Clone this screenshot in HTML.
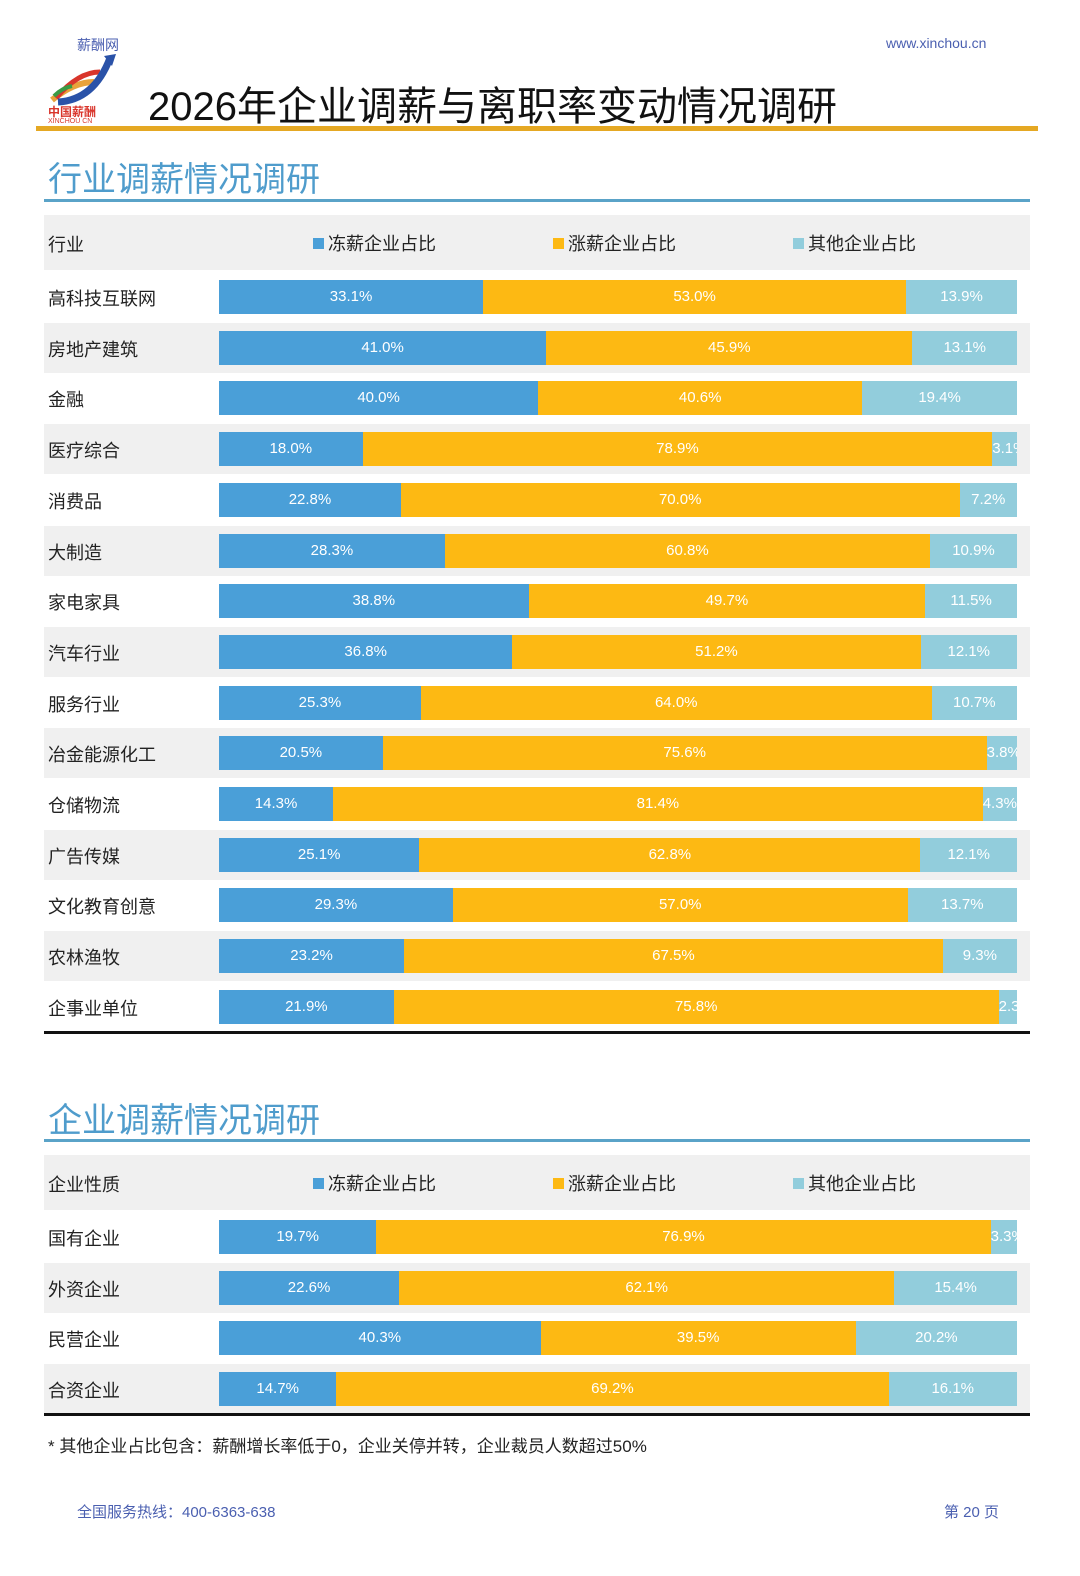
<!DOCTYPE html>
<html><head><meta charset="utf-8">
<style>
body{margin:0;background:#fff;}
#page{position:relative;width:1080px;height:1576px;overflow:hidden;font-family:"Liberation Sans","Noto Sans CJK SC",sans-serif;background:#fff;}
.abs{position:absolute;}
.rowlbl{position:absolute;left:48px;font-size:18px;color:#222;}
.seg{position:absolute;color:#fff;font-size:15px;text-align:center;overflow:hidden;white-space:nowrap;}
.leg{position:absolute;font-size:18px;color:#222;}
.leg i{display:inline-block;width:11px;height:11px;margin-right:4px;vertical-align:1px;}
</style></head>
<body>
<div id="page">
  <div class="abs" style="left:77px;top:35px;font-size:14px;color:#4a5fb0;">薪酬网</div>
  <svg class="abs" style="left:44px;top:52px" width="80" height="72">
    <path d="M8 48 Q30 30 50 30" stroke="#e8a23a" stroke-width="6" fill="none"/>
    <path d="M12 46 Q34 20 56 20" stroke="#d9352b" stroke-width="5" fill="none"/>
    <path d="M14 50 Q50 48 66 6" stroke="#2a52a8" stroke-width="7" fill="none"/>
    <polygon points="60,4 72,2 68,14" fill="#2a52a8"/>
    <path d="M10 44 Q18 36 28 34" stroke="#3a9a44" stroke-width="4" fill="none"/>
    <text x="4" y="64" font-size="12" fill="#d9352b" font-weight="bold" font-family="Liberation Sans, Noto Sans CJK SC, sans-serif">中国薪酬</text>
    <text x="4" y="71" font-size="7" fill="#d9352b" font-family="Liberation Sans, sans-serif">XINCHOU CN</text>
  </svg>
  <div class="abs" style="left:886px;top:35px;font-size:14px;color:#4a5fb0;">www.xinchou.cn</div>
  <div class="abs" style="left:148px;top:74px;font-size:40px;color:#111;">2026年企业调薪与离职率变动情况调研</div>
  <div class="abs" style="left:36px;top:126px;width:1002px;height:5px;background:#e5a823;"></div>

  <div class="abs" style="left:48px;top:152px;font-size:34px;color:#4f9ccc;">行业调薪情况调研</div>
  <div class="abs" style="left:44px;top:199px;width:986px;height:3px;background:#5aa3c8;"></div>
  <div id="chart1"></div>
  <div class="abs" style="left:44px;top:1031px;width:986px;height:3px;background:#111;"></div>

  <div class="abs" style="left:48px;top:1093px;font-size:34px;color:#4f9ccc;">企业调薪情况调研</div>
  <div class="abs" style="left:44px;top:1139px;width:986px;height:3px;background:#5aa3c8;"></div>
  <div id="chart2"></div>
  <div class="abs" style="left:44px;top:1413px;width:986px;height:3px;background:#111;"></div>

  <div class="abs" style="left:48px;top:1432px;font-size:17px;color:#222;">* 其他企业占比包含：薪酬增长率低于0，企业关停并转，企业裁员人数超过50%</div>
  <div class="abs" style="left:77px;top:1501px;font-size:15px;color:#4a5fb0;">全国服务热线：400-6363-638</div>
  <div class="abs" style="left:944px;top:1501px;font-size:15px;color:#4a5fb0;">第 20 页</div>
</div>
<script>
const cats1 = ["高科技互联网","房地产建筑","金融","医疗综合","消费品","大制造","家电家具","汽车行业","服务行业","冶金能源化工","仓储物流","广告传媒","文化教育创意","农林渔牧","企事业单位"];
const freeze1 = [33.1,41.0,40.0,18.0,22.8,28.3,38.8,36.8,25.3,20.5,14.3,25.1,29.3,23.2,21.9];
const raise1 = [53.0,45.9,40.6,78.9,70.0,60.8,49.7,51.2,64.0,75.6,81.4,62.8,57.0,67.5,75.8];
const other1 = [13.9,13.1,19.4,3.1,7.2,10.9,11.5,12.1,10.7,3.8,4.3,12.1,13.7,9.3,2.3];
const cats2 = ["国有企业","外资企业","民营企业","合资企业"];
const freeze2 = [19.7,22.6,40.3,14.7];
const raise2 = [76.9,62.1,39.5,69.2];
const other2 = [3.3,15.4,20.2,16.1];
const legendNames = ["冻薪企业占比","涨薪企业占比","其他企业占比"];
const colors = ["#4a9fd8","#fdb913","#92cddc"];

function drawChart(root, headerLabel, top, cats, f, r, o){
  const X0 = 219, W = 798, PITCH = 50.7, HEADER_H = 55;
  const hdr = document.createElement('div');
  
  
  hdr.style.cssText = `position:absolute;left:44px;top:${top}px;width:986px;height:${HEADER_H}px;background:#f0f0f0;`;
  root.appendChild(hdr);
  const hl = document.createElement('div');
  hl.className = 'rowlbl';
  
  
  hl.style.top = (top + 16) + 'px';
  hl.textContent = headerLabel;
  root.appendChild(hl);
  const legX = [313, 553, 793];
  legendNames.forEach((n, k) => {
    const l = document.createElement('div');
    l.className = 'leg';
    
    
    l.style.left = legX[k] + 'px';
    l.style.top = (top + 15) + 'px';
    l.innerHTML = `<i style="background:${colors[k]}"></i>${n}`;
    root.appendChild(l);
  });
  cats.forEach((c, i) => {
    const rt = top + HEADER_H + 2 + i * PITCH;
    if (i % 2 === 1) {
      const bg = document.createElement('div');
      
      
      bg.style.cssText = `position:absolute;left:44px;top:${rt}px;width:986px;height:50px;background:#f0f0f0;`;
      root.appendChild(bg);
    }
    const lb = document.createElement('div');
    lb.className = 'rowlbl';
    
    
    lb.style.top = (rt + 13) + 'px';
    lb.textContent = c;
    root.appendChild(lb);
    const vals = [f[i], r[i], o[i]];
    const sum = vals[0] + vals[1] + vals[2];
    let x = X0;
    vals.forEach((v, k) => {
      const w = v / sum * W;
      const s = document.createElement('div');
      s.className = 'seg';
      
      
      s.style.cssText += `left:${x}px;top:${rt + 8}px;width:${w}px;height:34px;line-height:34px;background:${colors[k]};`;
      s.textContent = v.toFixed(1) + '%';
      root.appendChild(s);
      x += w;
    });
  });
}
drawChart(document.getElementById('chart1'), '行业', 215, cats1, freeze1, raise1, other1);
drawChart(document.getElementById('chart2'), '企业性质', 1155, cats2, freeze2, raise2, other2);
</script>
</body></html>
